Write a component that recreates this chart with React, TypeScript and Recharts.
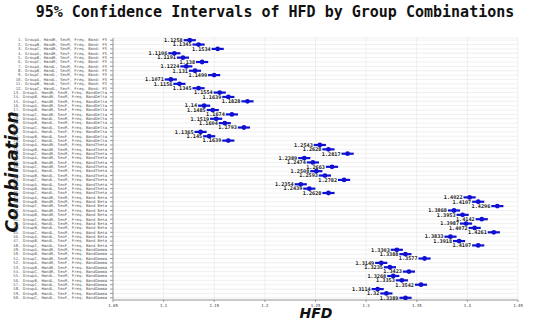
import { ScatterChart, Scatter, XAxis, YAxis, CartesianGrid, ErrorBar, LabelList } from 'recharts';

const groups = ['GroupA', 'GroupB', 'GroupC'];
const handSex = ['HandR, SexM', 'HandR, SexF', 'HandL, SexM', 'HandL, SexF'];
const bands = ['Band: FS', 'BandDelta', 'BandTheta', 'Band Beta', 'BandGamma'];

const means = [
  1.1258, 1.1345, 1.1534, 1.1106, 1.1191, 1.138, 1.1224, 1.131, 1.1499, 1.1071, 1.1156, 1.1345,
  1.1554, 1.1639, 1.1828, 1.14, 1.1485, 1.1674, 1.1519, 1.1604, 1.1793, 1.1365, 1.145, 1.1639,
  1.2543, 1.2628, 1.2817, 1.2389, 1.2474, 1.2663, 1.2508, 1.2593, 1.2782, 1.2354, 1.2439, 1.2628,
  1.4022, 1.4107, 1.4296, 1.3868, 1.3953, 1.4142, 1.3987, 1.4072, 1.4261, 1.3833, 1.3918, 1.4107,
  1.3303, 1.3388, 1.3577, 1.3149, 1.3235, 1.3423, 1.3268, 1.3353, 1.3542, 1.3114, 1.32, 1.3389,
];

// half width of each 95% interval
const halfWidths = [
  0.006, 0.006, 0.006, 0.006, 0.006, 0.006, 0.006, 0.006, 0.006, 0.006, 0.006, 0.006,
  0.006, 0.006, 0.006, 0.006, 0.006, 0.006, 0.006, 0.006, 0.006, 0.006, 0.006, 0.006,
  0.006, 0.006, 0.006, 0.006, 0.006, 0.006, 0.006, 0.006, 0.006, 0.006, 0.006, 0.006,
  0.006, 0.006, 0.006, 0.006, 0.006, 0.006, 0.006, 0.006, 0.006, 0.006, 0.006, 0.006,
  0.006, 0.006, 0.006, 0.006, 0.006, 0.006, 0.006, 0.006, 0.006, 0.006, 0.006, 0.006,
];

const xTicks = [1.05, 1.1, 1.15, 1.2, 1.25, 1.3, 1.35, 1.4, 1.45];

const labels = means.map((_, i) => {
  const band = bands[Math.floor(i / 12)];
  const hs = handSex[Math.floor((i % 12) / 3)];
  const g = groups[i % 3];
  return `${i + 1}. ${g}, ${hs}, Freq. ${band}`;
});

const data = means.map((m, i) => ({ row: i + 1, hfd: m, err: halfWidths[i] }));
const rowTicks = data.map((d) => d.row);

const BLUE = '#1010d0';
const MONO = '"DejaVu Sans Mono", monospace';

const Dot = (props: any) => {
  const { cx, cy } = props;
  return <circle cx={cx} cy={cy} r={2.4} fill={BLUE} />;
};

const ValueLabel = (props: any) => {
  const { x, y, width, height, value } = props;
  const cx = x + width / 2;
  const cy = y + height / 2;
  return (
    <text x={cx - 7} y={cy} dy={1.8} textAnchor="end" fontSize={5.2} fontWeight="bold" fontFamily={MONO} fill="#222">
      {value}
    </text>
  );
};

const RowTick = (props: any) => {
  const { x, y, payload } = props;
  return (
    <text x={x - 1} y={y} dy={1.3} textAnchor="end" fontSize={3.9} fontFamily={MONO} fill="#555">
      {labels[payload.value - 1]}
    </text>
  );
};

export default function App() {
  return (
    <div style={{ position: 'absolute', left: 0, top: 0, width: 550, height: 323, background: '#fff' }}>
      <div
        style={{
          position: 'absolute', top: 3, left: 0, width: 550, textAlign: 'center',
          fontFamily: MONO, fontWeight: 'bold', fontSize: 15, color: '#111',
        }}
      >
        95% Confidence Intervals of HFD by Group Combinations
      </div>
      <div
        style={{
          position: 'absolute', left: 12, top: 172, transform: 'translate(-50%, -50%) rotate(-90deg)',
          fontFamily: '"DejaVu Sans", sans-serif', fontWeight: 'bold', fontStyle: 'italic', fontSize: 17, color: '#111',
          whiteSpace: 'nowrap',
        }}
      >
        Combination
      </div>
      <div
        style={{
          position: 'absolute', left: 316, top: 313, transform: 'translate(-50%, -50%)',
          fontFamily: '"DejaVu Sans", sans-serif', fontWeight: 'bold', fontStyle: 'italic', fontSize: 14, color: '#111',
        }}
      >
        HFD
      </div>
      <ScatterChart width={550} height={323} margin={{ top: 38, right: 32, bottom: 0, left: 13 }}>
        <CartesianGrid stroke="#e6e6e6" strokeWidth={0.6} />
        <XAxis
          type="number"
          dataKey="hfd"
          domain={[1.05, 1.45]}
          ticks={xTicks}
          tickFormatter={(v: number) => String(v)}
          tick={{ fontSize: 4, fontFamily: MONO, fill: '#333' }}
          tickSize={2}
          height={23}
          stroke="#999"
          allowDataOverflow
        />
        <YAxis
          type="number"
          dataKey="row"
          domain={[0.5, 60.5]}
          reversed
          ticks={rowTicks}
          interval={0}
          tick={<RowTick />}
          tickSize={3}
          width={100}
          stroke="#999"
          allowDataOverflow
        />
        <Scatter data={data} fill={BLUE} shape={<Dot />} isAnimationActive={false}>
          <ErrorBar dataKey="err" direction="x" stroke={BLUE} strokeWidth={2.2} width={0} />
          <LabelList dataKey="hfd" content={<ValueLabel />} />
        </Scatter>
      </ScatterChart>
    </div>
  );
}
